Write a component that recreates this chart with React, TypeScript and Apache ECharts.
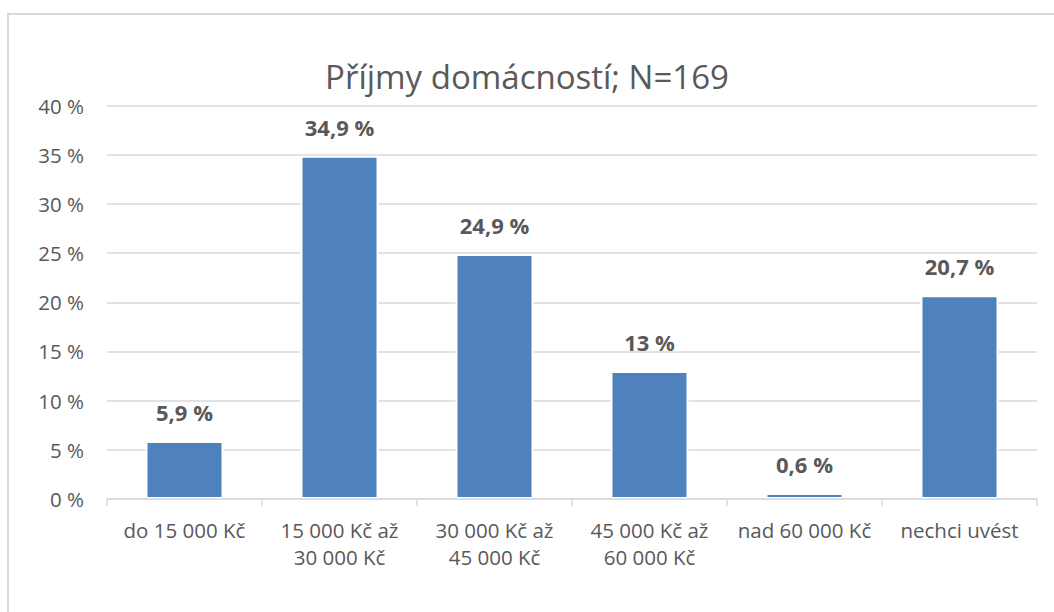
import React, { useEffect, useRef } from "react";
import * as echarts from "echarts";

const categories = [
  "do 15 000 Kč",
  "15 000 Kč až\n30 000 Kč",
  "30 000 Kč až\n45 000 Kč",
  "45 000 Kč až\n60 000 Kč",
  "nad 60 000 Kč",
  "nechci uvést",
];
const values = [5.9, 34.9, 24.9, 13, 0.6, 20.7];
const titleText = "Příjmy domácností; N=169";
const yMin = 0;
const yMax = 40;
const yStep = 5;

const FONT = "'Open Sans', 'Noto Sans', sans-serif";
const TEXT = "#595959";
const GRID = "#d9d9d9";

export default function App() {
  const ref = useRef<HTMLDivElement>(null);
  useEffect(() => {
    if (!ref.current) return;
    const chart = echarts.init(ref.current, undefined, { renderer: "svg" });
    chart.setOption({
      animation: false,
      backgroundColor: "#ffffff",
      textStyle: { fontFamily: FONT },
      title: {
        text: titleText,
        left: "center",
        top: 60,
        padding: 0,
        itemGap: 0,
        textStyle: { fontFamily: FONT, fontSize: 33, fontWeight: "normal", color: TEXT },
      },
      graphic: [
        {
          type: "rect",
          shape: { x: 8, y: 14, width: 1060, height: 620 },
          style: { fill: "none", stroke: GRID, lineWidth: 2 },
          silent: true,
          z: -1,
        },
      ],
      grid: { left: 107, right: 17, top: 105.5, bottom: 113, containLabel: false },
      xAxis: {
        type: "category",
        data: categories,
        z: 3,
        axisLine: { show: true, lineStyle: { color: GRID, width: 1.5 } },
        axisTick: { show: true, length: 7, alignWithLabel: false, lineStyle: { color: GRID, width: 1.5 } },
        axisLabel: {
          interval: 0,
          margin: 17,
          fontFamily: FONT,
          fontSize: 20.5,
          lineHeight: 27,
          color: TEXT,
        },
      },
      yAxis: {
        type: "value",
        min: yMin,
        max: yMax,
        interval: yStep,
        axisLine: { show: false },
        axisTick: { show: false },
        splitLine: { show: true, lineStyle: { color: GRID, width: 1.5 } },
        axisLabel: {
          margin: 23,
          fontFamily: FONT,
          fontSize: 20.5,
          color: TEXT,
          formatter: (v: number) => `${v} %`,
        },
      },
      series: [
        {
          type: "bar",
          data: values,
          barWidth: 78,
          itemStyle: { color: "#4f81bd", borderColor: "#ffffff", borderWidth: 2 },
          label: {
            show: true,
            position: "top",
            distance: 18,
            fontFamily: FONT,
            fontSize: 22,
            fontWeight: "bold",
            color: TEXT,
            formatter: (p: any) => `${String(p.value).replace(".", ",")} %`,
          },
        },
      ],
    });
    return () => chart.dispose();
  }, []);
  return (
    <div
      ref={ref}
      style={{ position: "absolute", left: 0, top: 0, width: 1054, height: 612 }}
    />
  );
}
